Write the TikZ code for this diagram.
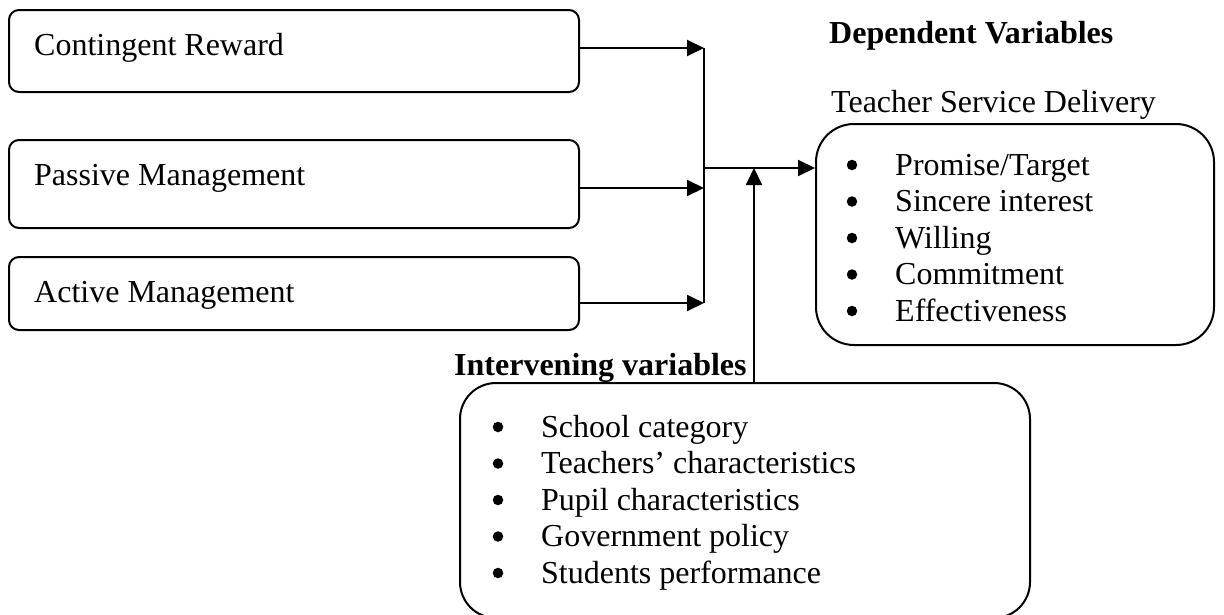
\documentclass[tikz,border=0pt]{standalone}
\usepackage{fontspec}
\setmainfont{Liberation Serif}
\usetikzlibrary{arrows.meta}
\begin{document}
\begin{tikzpicture}[x=1pt,y=-1pt,
  box/.style={draw,line width=2pt,rounded corners=10pt,inner sep=0pt,minimum width=570pt},
  bigbox/.style={draw,line width=2pt,rounded corners=38pt,inner sep=0pt},
  lbl/.style={anchor=base west,inner sep=0pt,font=\fontsize{32}{36.5}\selectfont},
  hdr/.style={anchor=base west,inner sep=0pt,font=\fontsize{32}{36.5}\selectfont\bfseries},
  bul/.style={circle,fill,inner sep=0pt,minimum size=10.5pt},
  arr/.style={line width=2pt,-{Triangle[length=17pt,width=16pt]}},
  ln/.style={line width=2pt}]
\useasboundingbox (0,0) rectangle (1224,614);
% left boxes
\node[box,minimum height=82pt] (cr) at (294,51) {};
\node[box,minimum height=88pt] (pm) at (294,184) {};
\node[box,minimum height=73pt] (am) at (294,293.5) {};
\node[lbl] (crt) at (34,55) {Contingent Reward};
\node[lbl] (pmt) at (34,185) {Passive Management};
\node[lbl] (amt) at (34,302) {Active Management};
% right and bottom boxes
\node[bigbox,minimum width=398pt,minimum height=221pt] (dep) at (1015,234.5) {};
\node[bigbox,rounded corners=36pt,minimum width=570pt,minimum height=235pt] (iv) at (745,500.5) {};
\node[hdr] (dvh) at (829,43) {Dependent Variables};
\node[lbl] (tsd) at (831,112) {Teacher Service Delivery};
\node[hdr] (ivh) at (454,375) {Intervening variables};
% dependent items
\foreach \t [count=\i from 0] in {Promise/Target,Sincere interest,Willing,Commitment,Effectiveness}{
  \node[bul] (db\i) at (852,165+36.5*\i) {};
  \node[lbl] (dt\i) at (895,175+36.5*\i) {\t};
}
% intervening items
\foreach \t [count=\i from 0] in {School category,Teachers’ characteristics,Pupil characteristics,Government policy,Students performance}{
  \node[bul] (ib\i) at (498,427+36.5*\i) {};
  \node[lbl] (it\i) at (541,437+36.5*\i) {\t};
}
% connectors
\coordinate (j1) at (704,48);
\coordinate (j2) at (704,188);
\coordinate (j3) at (704,303);
\coordinate (jm) at (704,168);
\coordinate (ji) at (754,168);
\draw[arr] (cr.east |- j1) -- (j1);
\draw[arr] (pm.east |- j2) -- (j2);
\draw[arr] (am.east |- j3) -- (j3);
\draw[ln] (j1) -- (j3);
\draw[arr] (jm) -- (dep.west |- jm);
\draw[arr] (iv.north -| ji) -- (ji);
\end{tikzpicture}
\end{document}
